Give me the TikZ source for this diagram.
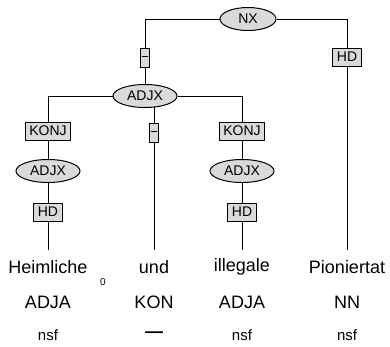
\documentclass[tikz,border=0pt]{standalone}
\usepackage{fontspec}
\setmainfont{Liberation Sans}
\usetikzlibrary{shapes.geometric,backgrounds}
\definecolor{boxgray}{HTML}{DADADA}
\tikzset{
  edgebox/.style={draw,fill=boxgray,line width=1pt,minimum height=18pt,inner xsep=4pt,inner ysep=0pt,font=\fontsize{14}{15}\selectfont},
  dashbox/.style={draw,fill=boxgray,line width=1pt,minimum height=19pt,minimum width=9pt,inner sep=0pt,font=\fontsize{11}{12}\selectfont},
  catnode/.style={ellipse,draw,fill=boxgray,line width=1pt,minimum height=23pt,inner sep=0pt,font=\fontsize{14}{15}\selectfont},
  word/.style={inner sep=0pt,font=\fontsize{18}{20}\selectfont},
  morph/.style={inner sep=0pt,font=\fontsize{15}{16}\selectfont}
}
\newcommand{\shortdash}{\rule[3pt]{6pt}{1.8pt}}
\begin{document}
\begin{tikzpicture}[x=1pt,y=-1pt,line width=1pt]
\useasboundingbox (0,0) rectangle (390,346);
% cac nut cay
\path
(248,19) node[catnode,minimum width=56pt] (nx) {NX}
(145,58) node[dashbox] (dashA) {\shortdash}
(347,57) node[edgebox] (hdN) {HD}
(145,96) node[catnode,minimum width=64pt] (adjx) {ADJX}
(48,131) node[edgebox] (konjL) {KONJ}
(154,133) node[dashbox] (dashB) {\shortdash}
(242,131) node[edgebox] (konjR) {KONJ}
(48,171) node[catnode,minimum width=64pt] (adjxL) {ADJX}
(242,171) node[catnode,minimum width=64pt] (adjxR) {ADJX}
(48,212) node[edgebox] (hdL) {HD}
(242,212) node[edgebox] (hdR) {HD};
% cac tu
\path
(48,267) node[word] (w1) {Heimliche}
(154,267) node[word] (w2) {und}
(242,267) node[word] (w3) {illegale}
(347,267) node[word] (w4) {Pioniertat}
(48,302) node[word] (t1) {ADJA}
(154,302) node[word] (t2) {KON}
(242,302) node[word] (t3) {ADJA}
(347,302) node[word] (t4) {NN}
(48,335) node[morph] (m1) {nsf}
(154,335) node[morph,font=\fontsize{18}{19}\selectfont\bfseries] (m2) {—}
(242,335) node[morph] (m3) {nsf}
(347,335) node[morph] (m4) {nsf}
(103,282) node[inner sep=0pt,font=\fontsize{10}{11}\selectfont] (stray) {0};
\coordinate (e1) at (48,250);
\coordinate (e2) at (154,250);
\coordinate (e3) at (242,250);
\coordinate (e4) at (347,250);
% cac canh
\begin{scope}[on background layer]
\draw (nx.west) -| (dashA.north);
\draw (dashA.south) -- (adjx);
\draw (nx.east) -| (hdN.north);
\draw (hdN.south) -- (e4);
\draw (adjx.west) -| (konjL.north);
\draw (konjL) -- (adjxL);
\draw (adjxL) -- (hdL);
\draw (hdL.south) -- (e1);
\draw (adjx.east) -| (konjR.north);
\draw (konjR) -- (adjxR);
\draw (adjxR) -- (hdR);
\draw (hdR.south) -- (e3);
\draw (dashB.north |- adjx.center) -- (dashB.north);
\draw (dashB.south) -- (e2);
\end{scope}
\end{tikzpicture}
\end{document}
